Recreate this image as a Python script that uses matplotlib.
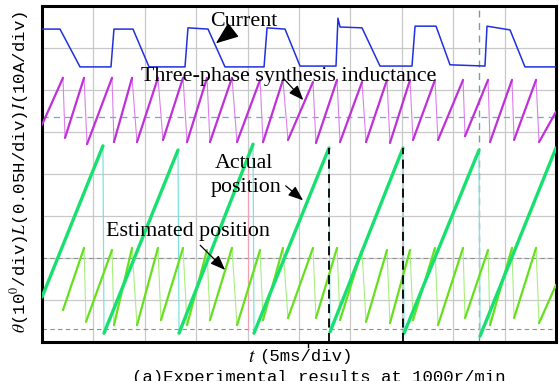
import matplotlib
matplotlib.use("Agg")
import matplotlib.pyplot as plt

plt.rcParams['mathtext.fontset'] = 'stix'

# ---- data (x in ms, 5 ms/div; y in divisions, 8 div full scale) ----
cur_t = [0, 1.75, 3.70, 6.71, 7.00, 8.85, 10.41, 13.91, 14.20, 16.15, 17.80, 21.60, 21.89,
         23.64, 25.10, 28.60, 28.79, 28.99, 31.13, 32.88, 35.99, 36.29, 38.33, 39.69,
         43.09, 43.29, 45.53, 46.98, 50.0]
cur_v = [7.45, 7.45, 6.55, 6.55, 7.45, 7.45, 6.55, 6.55, 7.48, 7.45, 6.55, 6.55, 7.48,
         7.45, 6.57, 6.57, 7.71, 7.50, 7.48, 6.57, 6.57, 7.52, 7.52, 6.60,
         6.57, 7.52, 7.43, 6.55, 6.55]

ind_t = [0, 2.04, 2.24, 4.09, 4.38, 6.81, 7.00, 8.76, 9.24, 11.28, 11.77, 13.72, 14.11,
         16.05, 16.34, 18.48, 18.97, 21.21, 21.50, 23.44, 23.93, 26.36, 26.65, 28.70,
         28.99, 31.13, 31.52, 33.56, 33.85, 35.80, 36.09, 38.23, 38.52, 40.96, 41.15,
         43.39, 43.58, 45.72, 45.92, 48.06, 48.35, 50.0]
ind_v = [5.17, 6.29, 4.86, 6.29, 4.71, 6.29, 4.76, 6.29, 4.76, 6.29, 4.81, 6.29, 4.76,
         6.29, 4.76, 6.29, 4.76, 6.24, 4.76, 6.24, 4.81, 6.19, 4.74, 6.24,
         4.76, 6.19, 4.76, 6.24, 4.74, 6.24, 4.81, 6.24, 4.81, 6.24, 4.90,
         6.24, 4.76, 6.24, 4.81, 6.24, 4.76, 5.48]

act_t = [0, 5.93, 6.03, 13.23, 13.33, 20.53, 20.62, 27.92, 28.02, 35.12, 35.22, 42.51, 42.61, 50.0]
act_v = [1.07, 4.67, 0.21, 4.57, 0.21, 4.71, 0.21, 4.62, 0.24, 4.62, 0.21, 4.57, 0.14, 4.62]

est_t = [2.04, 4.09, 4.28, 6.81, 7.00, 8.76, 9.24, 11.28, 11.57, 13.72, 14.11, 16.05, 16.34,
         18.48, 18.97, 21.21, 21.50, 23.44, 23.93, 26.36, 26.65, 28.70, 28.99, 31.13,
         31.52, 33.56, 33.85, 35.80, 36.09, 38.23, 38.52, 40.96, 41.15, 43.39, 43.58,
         45.72, 45.92, 48.06, 48.35, 50.0]
est_v = [0.76, 2.24, 0.48, 2.19, 0.40, 2.24, 0.40, 2.24, 0.52, 2.24, 0.40, 2.19, 0.52,
         2.24, 0.40, 2.19, 0.52, 2.24, 0.57, 2.24, 0.57, 2.24, 0.52, 2.19,
         0.48, 2.19, 0.45, 2.19, 0.52, 2.24, 0.40, 2.24, 0.57, 2.19, 0.40,
         2.24, 0.57, 2.24, 0.45, 1.36]

ref_levels_gray = [2.0, 0.31]
ref_level_blue = 5.36
cursor_t = 42.51
marker_t = [27.92, 35.12]
marker_top = 4.62
pink_t = 20.04

ylabel = r"$\theta$(10$^0$/div)$L$(0.05H/div)$I$(10A/div)"
xlabel_t = r"$t$"
xlabel_rest = "(5ms/div)"
caption = "(a)Experimental results at 1000r/min"

fig = plt.figure(figsize=(5.59, 3.81), dpi=100)
ax = fig.add_axes([42/559, 39/381, 514/559, 336/381])
ax.set_xlim(0, 50)
ax.set_ylim(0, 8)
ax.set_xticks(range(0, 51, 5))
ax.set_yticks(range(0, 9))
ax.tick_params(length=0, labelbottom=False, labelleft=False)
ax.grid(True, color='#c8c8c8', lw=0.9)
ax.set_axisbelow(True)
for s in ax.spines.values():
    s.set_linewidth(2.2)
    s.set_color('black')

# reference lines
for lv in ref_levels_gray:
    ax.axhline(lv, color='#909090', lw=0.8, ls=(0, (4, 3)))
ax.axhline(ref_level_blue, color='#6aa6e6', lw=0.9, ls=(0, (5, 4)))
ax.axvline(cursor_t, color='#7a9aa8', lw=1.0, ls=(0, (5, 4)))
ax.plot([pink_t, pink_t], [0.29, 4.57], color='#f0a0b0', lw=0.8)


def sawtooth(t, v, ramp_color, drop_color, ramp_lw, drop_lw):
    n = len(t)
    for i in range(n - 1):
        if i % 2 == 0:
            ax.plot(t[i:i + 2], v[i:i + 2], color=ramp_color, lw=ramp_lw,
                    solid_capstyle='round', zorder=3)
        else:
            ax.plot(t[i:i + 2], v[i:i + 2], color=drop_color, lw=drop_lw, zorder=2.5)


# traces
ax.plot(cur_t, cur_v, color='#2030e0', lw=1.1, zorder=3)
sawtooth(ind_t, ind_v, '#c030d8', '#dc80ec', 1.6, 0.8)
sawtooth(est_t, est_v, '#66e01c', '#a8ee80', 1.6, 0.8)
sawtooth(act_t, act_v, '#18e070', '#7fe3dc', 2.4, 0.9)

for mt in marker_t:
    ax.plot([mt, mt], [0, marker_top], color='black', lw=1.3, ls=(0, (5, 3)), zorder=4)

# annotations
tf = dict(family='Liberation Serif', fontsize=15.8, color='black')
arr = dict(arrowstyle='-|>,head_length=0.9,head_width=0.35', color='black', lw=0.9)
ax.annotate('Current', xy=(16.7, 7.07), xytext=(19.6, 7.62), ha='center', va='center',
            arrowprops=arr, **tf)
ax.annotate('', xy=(25.6, 5.71), xytext=(23.3, 6.33), arrowprops=arr)
ax.text(24.0, 6.33, 'Three-phase synthesis inductance', ha='center', va='center', **tf)
ax.annotate('', xy=(25.6, 3.33), xytext=(23.5, 3.76), arrowprops=arr)
ax.text(19.6, 4.26, 'Actual', ha='center', va='center', **tf)
ax.text(19.8, 3.67, 'position', ha='center', va='center', **tf)
ax.annotate('', xy=(18.0, 1.67), xytext=(15.2, 2.35), arrowprops=arr)
ax.text(14.2, 2.62, 'Estimated position', ha='center', va='center', **tf)

# trigger tick
ax.plot([25.9, 25.9], [0, -0.12], color='black', lw=1.0, clip_on=False)

# labels
fig.text(20/559, 1 - 172/381, ylabel, rotation=90, ha='center', va='center',
         family='Liberation Mono', fontsize=12.5)
fig.text(252/559, 1 - 357/381, xlabel_t, ha='center', va='center',
         family='Liberation Serif', fontsize=14)
fig.text(306/559, 1 - 357/381, xlabel_rest, ha='center', va='center',
         family='Liberation Mono', fontsize=12.5)
fig.text(319/559, 1 - 370/381, caption, ha='center', va='top',
         family='Liberation Mono', fontsize=12.5)

fig.savefig('out.png', dpi=100)
